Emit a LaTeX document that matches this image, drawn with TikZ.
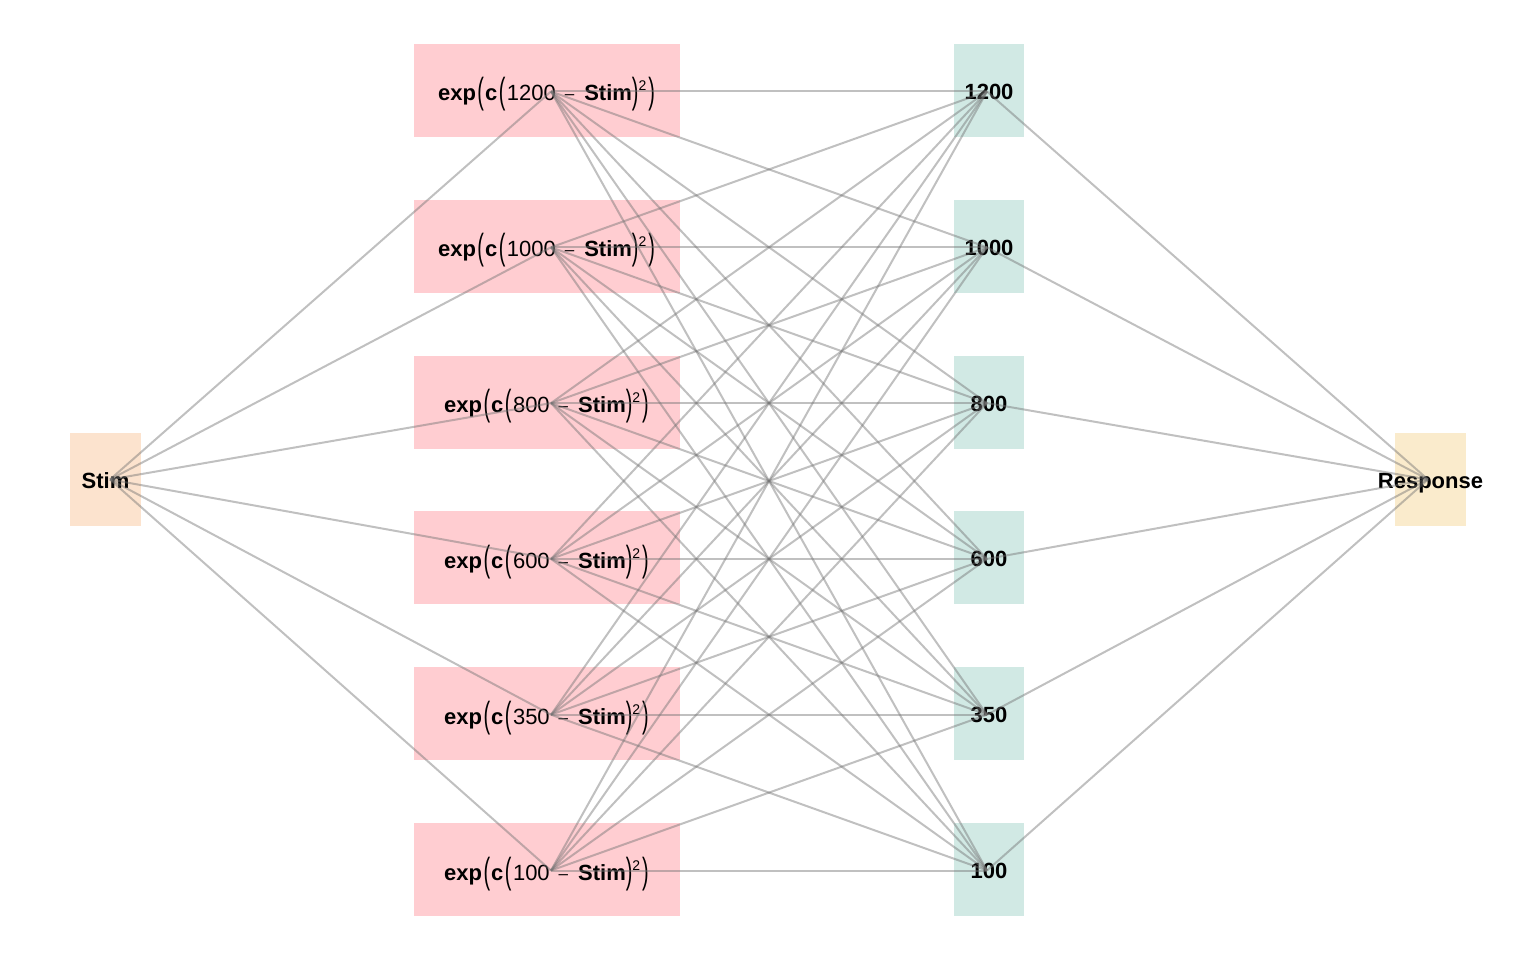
\documentclass[tikz,border=0pt]{standalone}
\usepackage{fontspec}
\setmainfont{Liberation Sans}
\usepackage{graphicx}
\definecolor{hidc}{RGB}{255,205,209}
\definecolor{stimc}{RGB}{252,227,206}
\definecolor{outc}{RGB}{209,233,228}
\definecolor{respc}{RGB}{250,235,204}
\newcommand\tallp[1]{\raisebox{-3pt}{\scalebox{0.9}[1.65]{#1}}}
\newcommand\hlab[1]{\textbf{exp}\hspace{1.5pt}\tallp{(}\hspace{1pt}\textbf{c}\hspace{1.5pt}\tallp{(}\hspace{1.5pt}#1\hspace{9pt}\raisebox{1pt}{\fontsize{17}{17}\selectfont –}\hspace{10pt}\textbf{Stim}\tallp{)}\raisebox{10pt}{\fontsize{14}{14}\selectfont 2}\hspace{2pt}\tallp{)}}
\begin{document}
\begin{tikzpicture}[x=1pt,y=-1pt,
  box/.style={inner sep=0pt, minimum height=93pt},
  hbox/.style={box, fill=hidc, minimum width=266pt},
  obox/.style={box, fill=outc, minimum width=70pt},
  sbox/.style={box, fill=stimc, minimum width=71pt},
  rbox/.style={box, fill=respc, minimum width=71pt},
  txt/.style={inner sep=0pt, anchor=base, font=\fontsize{22}{26}\selectfont},
  btxt/.style={txt, font=\fontsize{22}{26}\selectfont\bfseries},
  edge/.style={draw=black!55, opacity=0.45, line width=2pt}]
\useasboundingbox (0,0) rectangle (1536,960);
\node[sbox] (S) at (105.5,479.5) {};
\node[rbox] (R) at (1430.5,479.5) {};
\node[btxt] (St) at (105.5,488) {Stim};
\node[btxt] (Rt) at (1430.5,488) {Response};
\coordinate (s) at (110,479.5);
\coordinate (r) at (1428,479.5);
\foreach \v [count=\i from 0] in {1200,1000,800,600,350,100} {
  \pgfmathsetmacro{\yy}{90.5+155.8*\i}
  \node[hbox] (H\i) at (547,\yy) {};
  \node[obox] (O\i) at (989,\yy) {};
  \node[txt] (Ht\i) at (546.5,\yy+10.5) {\hlab{\v}};
  \node[btxt] (Ot\i) at (989,\yy+9) {\v};
  \coordinate (h\i) at (551,\yy+1);
  \coordinate (o\i) at (987,\yy+1);
}
\foreach \i in {0,...,5} {
  \draw[edge] (s) -- (h\i);
  \draw[edge] (o\i) -- (r);
  \foreach \j in {0,...,5} {
    \draw[edge] (h\i) -- (o\j);
  }
}
\end{tikzpicture}
\end{document}
